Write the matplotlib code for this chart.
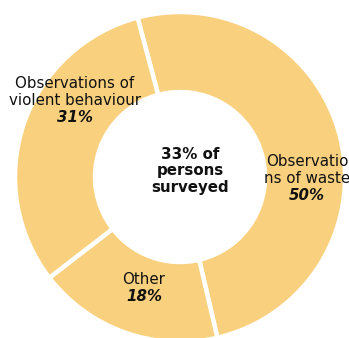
import matplotlib
matplotlib.use("Agg")
import matplotlib.pyplot as plt

# data
labels = ["Observatio\nns of waste", "Other", "Observations of\nviolent behaviour"]
values = [50, 18, 31]
pct_labels = ["50%", "18%", "31%"]
center_text = "33% of\npersons\nsurveyed"

color = "#F9D17E"

W, H = 349, 338
CX, CY, R = 180, 177, 165
FS = 10.8
STEP = 17  # line step in px


def px(x, y):
    # pixel position -> data coords (radius 1 == R px)
    return (x - CX) / R, (CY - y) / R


fig = plt.figure(figsize=(W / 100, H / 100), dpi=100)
ax = fig.add_axes([0, 0, 1, 1])

ax.pie(values, colors=[color] * len(values), startangle=104.9, counterclock=False,
       radius=1, wedgeprops=dict(width=0.485, edgecolor="white", linewidth=3.2))

ax.set_xlim(-CX / R, (W - CX) / R)
ax.set_ylim(-(H - CY) / R, CY / R)
ax.set_aspect("auto")
ax.axis("off")

# label positions (pixel coords of the label centre)
label_pos = [(307, 180), (144, 289), (75, 102)]
for name, pct, (x, y) in zip(labels, pct_labels, label_pos):
    nl = name.count("\n") + 1
    top = y - (nl + 1) * STEP / 2
    ax.text(*px(x, top), name, ha="center", va="top", fontsize=FS,
            linespacing=1.1, color="#111111")
    ax.text(*px(x, top + nl * STEP), pct, ha="center", va="top", fontsize=FS,
            fontweight="bold", fontstyle="italic", color="#111111")

ax.text(*px(190, 171), center_text, ha="center", va="center", fontsize=FS,
        fontweight="bold", linespacing=1.1, color="#111111")

fig.savefig("out.png", dpi=100)
